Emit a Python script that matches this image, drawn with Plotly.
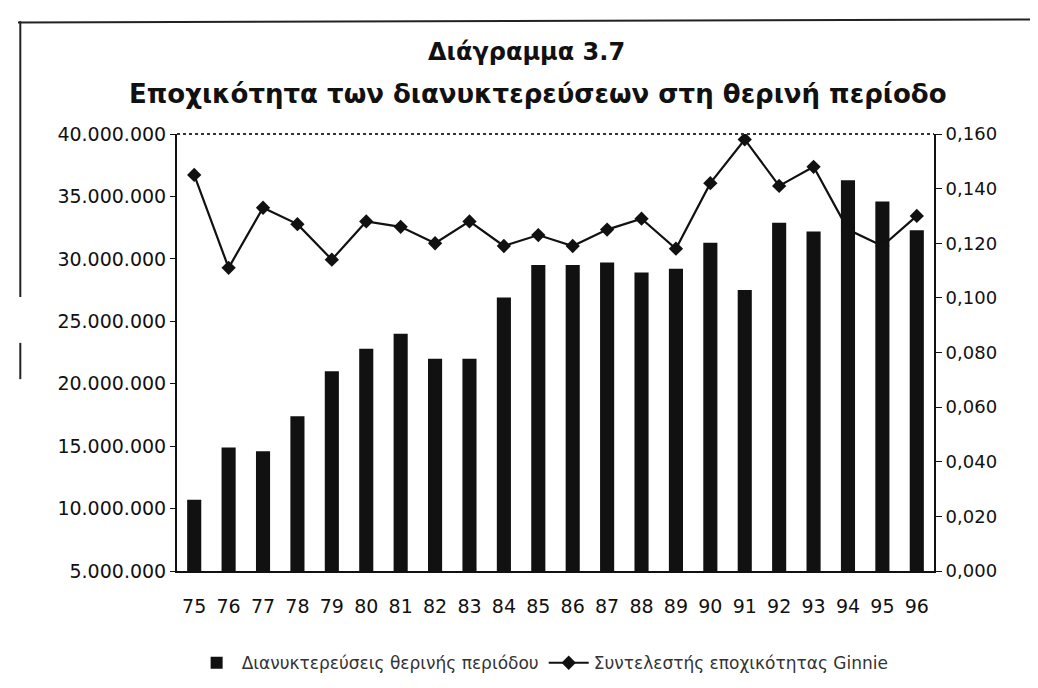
import plotly.graph_objects as go

# Data
years = ["75", "76", "77", "78", "79", "80", "81", "82", "83", "84", "85",
         "86", "87", "88", "89", "90", "91", "92", "93", "94", "95", "96"]
overnights = [10.7e6, 14.9e6, 14.6e6, 17.4e6, 21.0e6, 22.8e6, 24.0e6, 22.0e6,
              22.0e6, 26.9e6, 29.5e6, 29.5e6, 29.7e6, 28.9e6, 29.2e6, 31.3e6,
              27.5e6, 32.9e6, 32.2e6, 36.3e6, 34.6e6, 32.3e6]
gini = [0.145, 0.111, 0.133, 0.127, 0.114, 0.128, 0.126, 0.120, 0.128, 0.119,
        0.123, 0.119, 0.125, 0.129, 0.118, 0.142, 0.158, 0.141, 0.148, 0.125,
        0.119, 0.130]

left_ticks = [5e6, 10e6, 15e6, 20e6, 25e6, 30e6, 35e6, 40e6]
right_ticks = [0, 0.02, 0.04, 0.06, 0.08, 0.10, 0.12, 0.14, 0.16]

title_text = "Διάγραμμα 3.7"
subtitle_text = "Εποχικότητα των διανυκτερεύσεων στη θερινή περίοδο"

font_name = "DejaVu Sans"
ink = "#111111"

fig = go.Figure()

# Bars - summer overnight stays
fig.add_trace(go.Bar(
    x=years,
    y=overnights,
    name="Διανυκτερεύσεις θερινής περιόδου",
    marker=dict(color=ink, line=dict(width=0)),
    yaxis="y"
))

# Line - seasonality coefficient
fig.add_trace(go.Scatter(
    x=years,
    y=gini,
    mode="lines+markers",
    name="Συντελεστής εποχικότητας Ginnie",
    line=dict(color=ink, width=2.2),
    marker=dict(symbol="diamond", size=11, color=ink),
    yaxis="y2"
))

fig.update_layout(
    width=1038,
    height=688,
    autosize=False,
    margin=dict(l=169, r=112, t=126, b=125),
    paper_bgcolor="white",
    plot_bgcolor="white",
    separators=",.",
    font=dict(family=font_name, color=ink, size=19),
    bargap=0.59,
    showlegend=True,
    legend=dict(
        orientation="h",
        x=0.483, xanchor="center",
        y=-0.211, yanchor="middle",
        font=dict(size=17, color="#333333"),
        itemwidth=40
    ),
    xaxis=dict(
        type="category",
        range=[-0.5, 21.5],
        showline=True, linecolor=ink, linewidth=2,
        ticks="", showgrid=False,
        tickfont=dict(size=19),
        ticklabelstandoff=17
    ),
    yaxis=dict(
        range=[5e6, 40e6],
        tickvals=left_ticks,
        tickformat=",d",
        showline=True, linecolor=ink, linewidth=2,
        ticks="outside", ticklen=5, tickcolor=ink,
        showgrid=False, zeroline=False,
        tickfont=dict(size=19)
    ),
    yaxis2=dict(
        overlaying="y", side="right",
        range=[0, 0.16],
        tickvals=right_ticks,
        tickformat=".3f",
        showline=True, linecolor=ink, linewidth=2,
        ticks="outside", ticklen=6, tickcolor=ink,
        showgrid=False, zeroline=False,
        tickfont=dict(size=18)
    ),
    annotations=[
        dict(text="<b>" + title_text + "</b>", xref="paper", yref="paper",
             x=0.462, y=1.188, xanchor="center", yanchor="middle",
             showarrow=False, font=dict(size=24, color=ink)),
        dict(text="<b>" + subtitle_text + "</b>", xref="paper", yref="paper",
             x=0.477, y=1.092, xanchor="center", yanchor="middle",
             showarrow=False, font=dict(size=26, color=ink)),
    ],
    shapes=[
        # dotted top border of the plot area
        dict(type="line", xref="paper", yref="paper", x0=0, x1=1, y0=1, y1=1,
             line=dict(color="#333333", width=2, dash="dot")),
        # outer frame of the scanned page
        dict(type="line", xref="paper", yref="paper", x0=-0.21, x1=1.148,
             y0=1.255, y1=1.262, line=dict(color="#222222", width=2)),
        dict(type="line", xref="paper", yref="paper", x0=-0.207, x1=-0.207,
             y0=1.258, y1=0.627, line=dict(color="#222222", width=2)),
        dict(type="line", xref="paper", yref="paper", x0=-0.207, x1=-0.207,
             y0=0.522, y1=0.439, line=dict(color="#222222", width=2)),
    ]
)

fig.write_html("out.html")
